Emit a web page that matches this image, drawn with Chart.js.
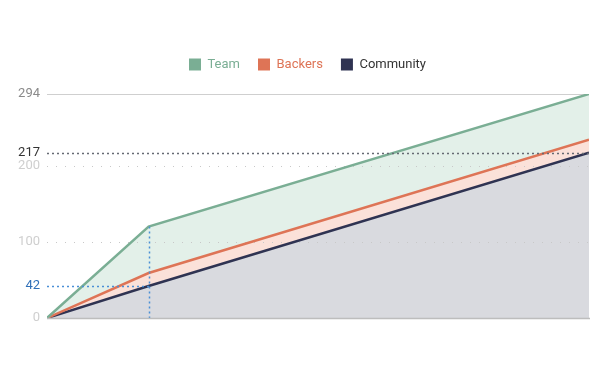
<!DOCTYPE html>
<html>
<head>
<meta charset="utf-8">
<script src="https://cdn.jsdelivr.net/npm/chart.js@4"></script>
<style>
  html, body { margin: 0; padding: 0; background: #fff; }
  #wrap { width: 600px; height: 377px; }
</style>
</head>
<body>
<div id="wrap"><canvas id="chart"></canvas></div>
<script>
// data
let months = [0, 3, 16]
let team = [0, 120, 294]
let backers = [0, 59, 234]
let community = [0, 42, 217]
let yTicks = [0, 42, 100, 200, 217, 294]
let markX = 3
let markY = 42

function pts(vals) {
    return vals.map((v, i) => ({ x: months[i], y: v }))
}

// extra room under the legend, and nudge it right like the original
const legendGap = {
    id: "legendGap",
    beforeInit(chart) {
        let fit = chart.legend.fit
        chart.legend.fit = function () {
            fit.bind(chart.legend)()
            this.height += 13
        }
    },
    beforeDraw(chart) {
        chart.legend.left += 13
        chart.legend.right += 13
    }
}

// reference lines drawn through the scales
const guides = {
    id: "guides",
    beforeDatasetsDraw(chart) {
        let ctx = chart.ctx
        let ys = chart.scales.y
        let a = chart.chartArea
        ctx.save()
        ctx.lineWidth = 1
        for (let v of [100, 200]) {
            let y = Math.round(ys.getPixelForValue(v)) + 0.5
            ctx.strokeStyle = "#c8c8c8"
            ctx.setLineDash([1, 8])
            ctx.beginPath(); ctx.moveTo(a.left, y); ctx.lineTo(a.right, y); ctx.stroke()
        }
        let y294 = Math.round(ys.getPixelForValue(294)) + 0.5
        ctx.setLineDash([])
        ctx.strokeStyle = "#cfcfcf"
        ctx.beginPath(); ctx.moveTo(a.left, y294); ctx.lineTo(a.right, y294); ctx.stroke()
        ctx.restore()
    },
    afterDatasetsDraw(chart) {
        let ctx = chart.ctx
        let ys = chart.scales.y
        let xs = chart.scales.x
        let a = chart.chartArea
        ctx.save()
        ctx.lineWidth = 1.5
        let y217 = Math.round(ys.getPixelForValue(217)) + 0.5
        ctx.strokeStyle = "#666a73"
        ctx.setLineDash([2, 3])
        ctx.beginPath(); ctx.moveTo(a.left, y217); ctx.lineTo(a.right, y217); ctx.stroke()

        let mx = Math.round(xs.getPixelForValue(markX)) + 0.5
        let my = Math.round(ys.getPixelForValue(markY)) + 0.5
        let top = ys.getPixelForValue(team[1])
        ctx.strokeStyle = "#4a8fd6"
        ctx.setLineDash([2, 3])
        ctx.beginPath(); ctx.moveTo(a.left, my); ctx.lineTo(mx, my); ctx.stroke()
        ctx.beginPath(); ctx.moveTo(mx, top); ctx.lineTo(mx, a.bottom); ctx.stroke()

        ctx.setLineDash([])
        ctx.lineWidth = 1.5
        ctx.strokeStyle = "#bdbdbd"
        ctx.beginPath(); ctx.moveTo(a.left, a.bottom + 0.5); ctx.lineTo(a.right + 1, a.bottom + 0.5); ctx.stroke()
        ctx.restore()
    }
}

let labelColors = { 0: "#cfcfcf", 42: "#2f6fb8", 100: "#cfcfcf", 200: "#cfcfcf", 217: "#333333", 294: "#8a8a8a" }

new Chart(document.getElementById("chart"), {
    type: "line",
    data: {
        datasets: [
            { label: "Team", data: pts(team), borderColor: "#7aae94", backgroundColor: "#e3f0e9", fill: "+1" },
            { label: "Backers", data: pts(backers), borderColor: "#de7456", backgroundColor: "#fbe1d9", fill: "+1" },
            { label: "Community", data: pts(community), borderColor: "#2f3352", backgroundColor: "#d9dadf", fill: "origin" }
        ]
    },
    options: {
        responsive: true,
        maintainAspectRatio: false,
        animation: false,
        elements: {
            line: { borderWidth: 2.5, tension: 0 },
            point: { radius: 0 }
        },
        layout: { padding: { top: 40, right: 11, bottom: 59, left: 0 } },
        plugins: {
            filler: { drawTime: "beforeDatasetsDraw" },
            tooltip: { enabled: false },
            legend: {
                labels: {
                    boxWidth: 12,
                    boxHeight: 12,
                    padding: 18,
                    font: { family: "Roboto", size: 13 },
                    generateLabels(chart) {
                        return chart.data.datasets.map((d, i) => ({
                            text: d.label,
                            fillStyle: d.borderColor,
                            strokeStyle: d.borderColor,
                            lineWidth: 0,
                            fontColor: i === 2 ? "#333333" : d.borderColor,
                            datasetIndex: i
                        }))
                    }
                }
            }
        },
        scales: {
            x: { type: "linear", min: months[0], max: months[months.length - 1], display: false },
            y: {
                min: 0,
                max: 294,
                afterBuildTicks(scale) {
                    scale.ticks = yTicks.map(v => ({ value: v }))
                },
                afterFit(scale) { scale.width = 47 },
                border: { display: false },
                grid: { display: false, drawTicks: false },
                ticks: {
                    padding: 7,
                    font: { family: "Roboto", size: 13 },
                    color: (c) => labelColors[c.tick.value] || "#cfcfcf"
                }
            }
        }
    },
    plugins: [legendGap, guides]
})
</script>
</body>
</html>
